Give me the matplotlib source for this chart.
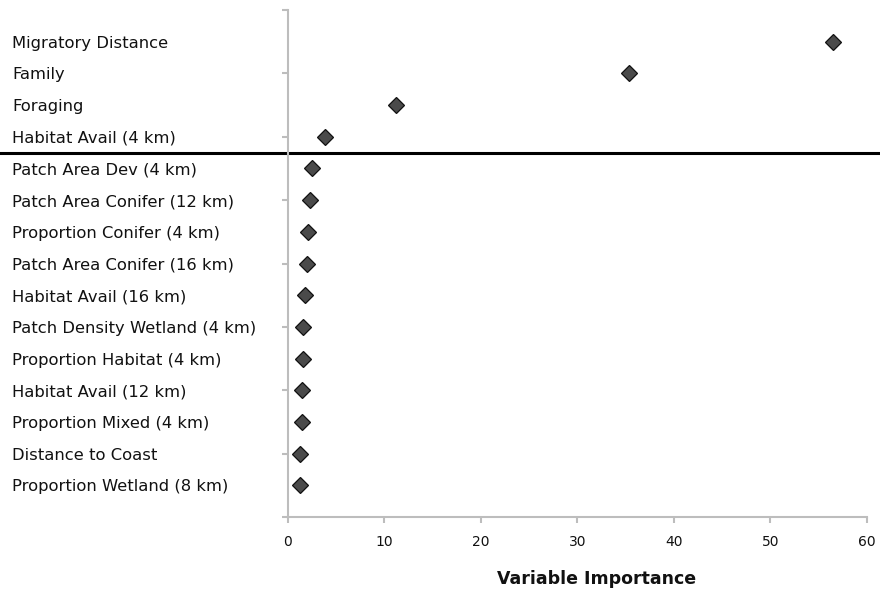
import matplotlib
matplotlib.use("Agg")
import matplotlib.pyplot as plt
from matplotlib.transforms import blended_transform_factory

plt.rcParams['font.family'] = ['DejaVu Sans']

variables = [
    "Migratory Distance",
    "Family",
    "Foraging",
    "Habitat Avail (4 km)",
    "Patch Area Dev (4 km)",
    "Patch Area Conifer (12 km)",
    "Proportion Conifer (4 km)",
    "Patch Area Conifer (16 km)",
    "Habitat Avail (16 km)",
    "Patch Density Wetland (4 km)",
    "Proportion Habitat (4 km)",
    "Habitat Avail (12 km)",
    "Proportion Mixed (4 km)",
    "Distance to Coast",
    "Proportion Wetland (8 km)",
]
importance = [56.5, 35.4, 11.2, 3.9, 2.5, 2.3, 2.1, 2.0, 1.8, 1.6, 1.6, 1.45, 1.45, 1.3, 1.3]
x_ticks = [0, 10, 20, 30, 40, 50, 60]
cutoff = 4.5  # line between the kept and dropped variables

W, H = 880, 590
fig = plt.figure(figsize=(W / 100, H / 100), dpi=100)
ax = fig.add_axes([287.7 / W, 73 / H, 579 / W, 507 / H])

pos = list(range(1, len(variables) + 1))
ax.plot(importance, pos, linestyle='none', marker='D', markersize=8,
        markerfacecolor='#4a4a4a', markeredgecolor='#111111', markeredgewidth=0.9)

ax.set_xlim(0, 60)
ax.set_ylim(len(variables) + 1, 0)
ax.set_xticks(x_ticks)
ax.set_yticks(range(0, len(variables) + 2, 2))
ax.set_yticklabels([])

for side in ['top', 'right']:
    ax.spines[side].set_visible(False)
for side in ['left', 'bottom']:
    ax.spines[side].set_color('#bdbdbd')
    ax.spines[side].set_linewidth(1.5)
ax.tick_params(axis='both', color='#bdbdbd', width=1.5, length=4)
ax.tick_params(axis='x', labelsize=10, pad=9, labelcolor='#111111')

trans = blended_transform_factory(fig.transFigure, ax.transData)
for name, p in zip(variables, pos):
    ax.text(12 / W, p + 0.05, name, transform=trans, ha='left', va='center',
            fontsize=11.8, color='#111111')

ax.axhline(cutoff, xmin=-287.7 / 579, xmax=(W - 287.7) / 579,
           color='black', linewidth=2.2, clip_on=False)

ax.set_xlabel('Variable Importance', fontsize=12.5, fontweight='bold', color='#111111')
ax.xaxis.set_label_coords((597 - 287.7) / 579, -(570 - 517) / 507)

fig.savefig('out.png', dpi=100)
